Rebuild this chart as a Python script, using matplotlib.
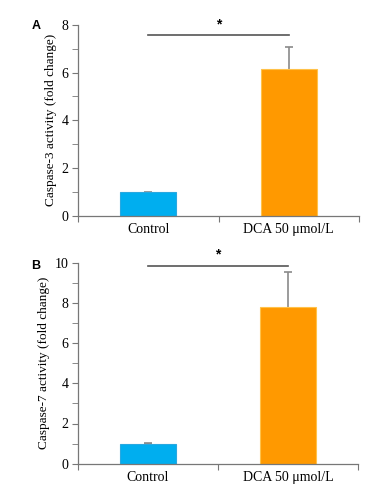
import matplotlib
matplotlib.use("Agg")
import matplotlib.pyplot as plt
from matplotlib.ticker import MultipleLocator

categories = ["Control", "DCA 50 \u03bcmol/L"]
casp3_mean = [1.0, 6.16]
casp3_err = [0.02, 0.92]
casp7_mean = [1.0, 7.8]
casp7_err = [0.02, 1.72]
casp3_sig = 7.57
casp7_sig = 9.85

bar_colors = ["#00AEEF", "#FF9900"]
edge_colors = ["#2AA8E0", "#FFC24A"]

plt.rcParams['font.family'] = ['Liberation Serif', 'DejaVu Serif']

fig = plt.figure(figsize=(3.84, 4.86), dpi=100)
axA = fig.add_axes([78/384, 1-216/486, 281/384, (216-24.7)/486])
axB = fig.add_axes([78/384, 1-463.7/486, 280/384, (463.7-262.7)/486])

def draw(ax, means, errs, ymax, major, sig, ylabel, letter, letter_y):
    x = list(range(len(categories)))
    ax.errorbar(x, means, yerr=errs, fmt='none', ecolor='#8a8a8a',
                elinewidth=1.2, capsize=3, capthick=1.2, zorder=1)
    ax.bar(x, means, width=0.4, color=bar_colors, edgecolor=edge_colors, linewidth=0.8, zorder=2)
    ax.set_xlim(-0.5, 1.5)
    ax.set_ylim(0, ymax)
    ax.yaxis.set_major_locator(MultipleLocator(major))
    ax.yaxis.set_minor_locator(MultipleLocator(1))
    ax.set_xticks([-0.5, 0.5, 1.5], minor=False)
    ax.set_xticklabels([])
    ax.set_xticks(x, minor=True)
    ax.set_xticklabels(categories, minor=True, fontsize=10)
    ax.tick_params(axis='x', which='minor', length=0, pad=5)
    ax.tick_params(axis='x', which='major', length=4, color='#777777', direction='out')
    ax.tick_params(axis='y', which='both', length=4, color='#777777', labelsize=10, pad=3)
    for s in ['top', 'right']:
        ax.spines[s].set_visible(False)
    for s in ['left', 'bottom']:
        ax.spines[s].set_color('#777777')
        ax.spines[s].set_linewidth(0.9)
    ax.set_ylabel(ylabel, fontsize=9.5, labelpad=3)
    ax.plot([0, 1], [sig, sig], color='#555555', lw=1.2, clip_on=False)
    ax.text(0.5, sig + ymax*0.02, '*', ha='center', va='bottom', fontsize=10,
            family=['Liberation Sans'], fontweight='bold')
    ax.text(-0.15, letter_y, letter, transform=ax.transAxes, ha='center', va='center',
            fontsize=9, fontweight='bold', family=['Liberation Sans'])

draw(axA, casp3_mean, casp3_err, 8, 2, casp3_sig, "Caspase-3 activity (fold change)", "A", 0.993)
draw(axB, casp7_mean, casp7_err, 10, 2, casp7_sig, "Caspase-7 activity (fold change)", "B", 0.983)

fig.savefig("out.png", dpi=100)
